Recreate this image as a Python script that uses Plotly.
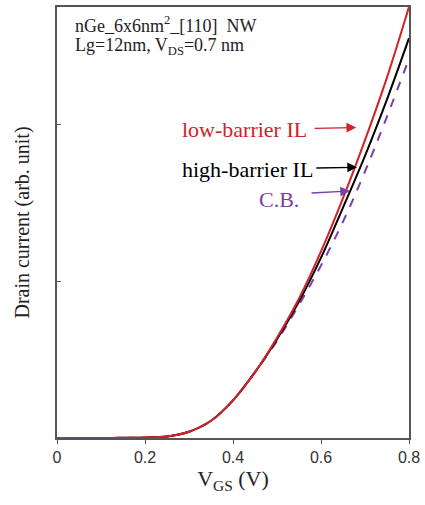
import plotly.graph_objects as go

vgs = [0.0, 0.05, 0.1, 0.15, 0.2, 0.25, 0.3, 0.35, 0.4, 0.45, 0.5, 0.55, 0.6, 0.65, 0.7, 0.75, 0.8]
low_barrier = [0.0, 0.0, 0.0, 0.001, 0.003, 0.01, 0.04, 0.11, 0.24, 0.42, 0.64, 0.89, 1.19, 1.53, 1.90, 2.30, 2.75]
high_barrier = [0.0, 0.0, 0.0, 0.001, 0.003, 0.01, 0.04, 0.11, 0.24, 0.42, 0.63, 0.87, 1.15, 1.47, 1.80, 2.16, 2.55]
cb = [0.0, 0.0, 0.0, 0.001, 0.003, 0.01, 0.04, 0.11, 0.24, 0.42, 0.62, 0.85, 1.10, 1.38, 1.70, 2.05, 2.42]

x_ticks = [0, 0.2, 0.4, 0.6, 0.8]
x_tick_labels = ["0", "0.2", "0.4", "0.6", "0.8"]
y_ticks = [1, 2]

RED = "#d42027"
PURPLE = "#7b3fa8"
SERIF = "Liberation Serif, Times New Roman, serif"

fig = go.Figure()
fig.add_trace(go.Scatter(x=vgs, y=cb, mode="lines", line=dict(color=PURPLE, width=2, dash="dash", shape="spline"), showlegend=False))
fig.add_trace(go.Scatter(x=vgs, y=high_barrier, mode="lines", line=dict(color="black", width=2, shape="spline"), showlegend=False))
fig.add_trace(go.Scatter(x=vgs, y=low_barrier, mode="lines", line=dict(color=RED, width=2, shape="spline"), showlegend=False))

annotations = [
    dict(x=0.037, y=2.64, xref="x", yref="y", xanchor="left", showarrow=False,
         text="nGe_6x6nm<sup>2</sup>_[110]  NW", font=dict(family=SERIF, size=18, color="#222")),
    dict(x=0.037, y=2.50, xref="x", yref="y", xanchor="left", showarrow=False,
         text="Lg=12nm, V<sub>DS</sub>=0.7 nm", font=dict(family=SERIF, size=18, color="#222")),
    dict(x=0.427, y=1.968, xref="x", yref="y", showarrow=False,
         text="low-barrier IL", font=dict(family=SERIF, size=22, color=RED)),
    dict(x=0.434, y=1.714, xref="x", yref="y", showarrow=False,
         text="high-barrier IL", font=dict(family=SERIF, size=22, color="black")),
    dict(x=0.505, y=1.524, xref="x", yref="y", showarrow=False,
         text="C.B.", font=dict(family=SERIF, size=22, color=PURPLE)),
    dict(x=0.680, y=1.98, ax=0.582, ay=1.975, xref="x", yref="y", axref="x", ayref="y",
         text="", showarrow=True, arrowhead=2, arrowsize=1.5, arrowwidth=1.3, arrowcolor=RED),
    dict(x=0.682, y=1.727, ax=0.586, ay=1.722, xref="x", yref="y", axref="x", ayref="y",
         text="", showarrow=True, arrowhead=2, arrowsize=1.5, arrowwidth=1.3, arrowcolor="black"),
    dict(x=0.666, y=1.575, ax=0.575, ay=1.562, xref="x", yref="y", axref="x", ayref="y",
         text="", showarrow=True, arrowhead=2, arrowsize=1.5, arrowwidth=1.3, arrowcolor=PURPLE),
]

fig.update_layout(
    width=425, height=505,
    margin=dict(l=57, r=16, t=5, b=67),
    plot_bgcolor="white", paper_bgcolor="white",
    annotations=annotations,
    xaxis=dict(range=[0, 0.8], tickvals=x_ticks, ticktext=x_tick_labels, ticks="outside", ticklen=4,
               tickcolor="#555", showline=True, linecolor="#555", linewidth=1.5, mirror=True,
               showgrid=False, zeroline=False,
               tickfont=dict(family="Liberation Sans, Arial, sans-serif", size=16, color="#333"),
               title=dict(text="V<sub>GS</sub> (V)", font=dict(family=SERIF, size=22, color="#222"), standoff=6)),
    yaxis=dict(range=[0, 2.749], tickvals=y_ticks, ticks="inside", ticklen=4, tickcolor="#555",
               showticklabels=False, showline=True, linecolor="#555", linewidth=1.5, mirror=True,
               showgrid=False, zeroline=False,
               title=dict(text="Drain current (arb. unit)", font=dict(family=SERIF, size=20, color="#222"), standoff=20)),
)

fig.write_html("out.html", config={"displayModeBar": False},
               post_script="document.body.style.margin='0';document.body.style.padding='0';")
